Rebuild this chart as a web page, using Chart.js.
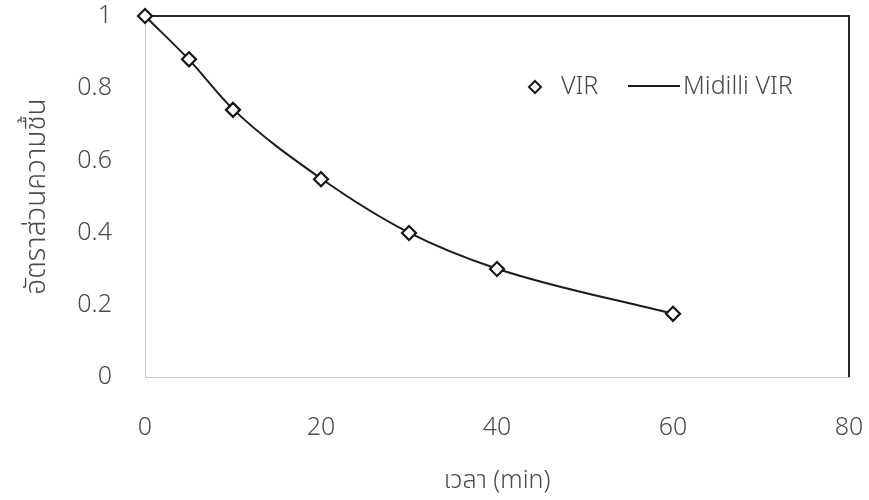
<!DOCTYPE html>
<html>
<head>
<meta charset="utf-8">
<script src="https://cdn.jsdelivr.net/npm/chart.js@4"></script>
<style>
  html, body { margin: 0; padding: 0; background: #fff; }
  #wrap { width: 869px; height: 500px; }
</style>
</head>
<body>
<div id="wrap"><canvas id="dryingChart"></canvas></div>
<script>
// time (min) and moisture ratio
const timeMin = [0, 5, 10, 20, 30, 40, 60];
const virMR = [1.0, 0.88, 0.74, 0.548, 0.399, 0.299, 0.175];
const midilliMR = [1.0, 0.879, 0.742, 0.55, 0.4, 0.3, 0.175];
const xTicks = [0, 20, 40, 60, 80];
const yTicks = [0, 0.2, 0.4, 0.6, 0.8, 1];

const textColor = "#4a4a4a";
const fontFamily = "'Noto Sans', 'Noto Sans Thai', sans-serif";

const frameAndLegend = {
  id: "frameAndLegend",
  beforeDatasetsDraw(chart) {
    const { ctx, chartArea } = chart;
    ctx.save();
    // dark top and right border
    ctx.strokeStyle = "#1e2a24";
    ctx.lineWidth = 2;
    ctx.beginPath();
    ctx.moveTo(chartArea.left, chartArea.top);
    ctx.lineTo(chartArea.right, chartArea.top);
    ctx.lineTo(chartArea.right, chartArea.bottom);
    ctx.stroke();
    ctx.restore();
  },
  afterDatasetsDraw(chart) {
    const { ctx } = chart;
    ctx.save();
    // legend
    const ly = 87;
    ctx.lineWidth = 2;
    ctx.strokeStyle = "#1a1a1a";
    ctx.fillStyle = "#fff";
    ctx.beginPath();
    ctx.moveTo(535, ly - 6);
    ctx.lineTo(541, ly);
    ctx.lineTo(535, ly + 6);
    ctx.lineTo(529, ly);
    ctx.closePath();
    ctx.fill();
    ctx.stroke();

    ctx.beginPath();
    ctx.moveTo(628, ly - 1);
    ctx.lineTo(680, ly - 1);
    ctx.stroke();

    ctx.fillStyle = textColor;
    ctx.font = "300 25px " + fontFamily;
    ctx.textBaseline = "middle";
    ctx.textAlign = "left";
    ctx.fillText(chart.data.datasets[0].label, 561, ly);
    ctx.fillText(chart.data.datasets[1].label, 683, ly);
    ctx.restore();
  },
};

new Chart(document.getElementById("dryingChart"), {
  type: "scatter",
  data: {
    datasets: [
      {
        label: "VIR",
        data: timeMin.map((t, i) => ({ x: t, y: virMR[i] })),
        showLine: false,
        clip: false,
        pointStyle: "rectRot",
        pointRadius: 7,
        pointBorderWidth: 2.2,
        pointBackgroundColor: "#fff",
        pointBorderColor: "#151515",
        order: 0,
      },
      {
        label: "Midilli VIR",
        data: timeMin.map((t, i) => ({ x: t, y: midilliMR[i] })),
        showLine: true,
        borderColor: "#1c1c1c",
        borderWidth: 2,
        pointRadius: 0,
        cubicInterpolationMode: "monotone",
        order: 1,
      },
    ],
  },
  options: {
    responsive: true,
    maintainAspectRatio: false,
    animation: false,
    layout: { padding: { top: 16, right: 20, left: 0, bottom: 0 } },
    plugins: {
      legend: { display: false },
      tooltip: { enabled: false },
    },
    scales: {
      x: {
        type: "linear",
        min: 0,
        max: 80,
        afterBuildTicks: (axis) => {
          axis.ticks = xTicks.map((v) => ({ value: v }));
        },
        afterFit: (axis) => {
          axis.height = 123;
          axis.paddingLeft = 0;
          axis.paddingRight = 0;
        },
        grid: { display: false, drawTicks: false },
        border: { color: "#c8c8c8", width: 1 },
        ticks: {
          padding: 36,
          color: textColor,
          font: { family: fontFamily, size: 25, weight: 300 },
        },
        title: {
          display: true,
          text: "เวลา (min)",
          color: textColor,
          font: { family: fontFamily, size: 25, weight: 300 },
          padding: { top: 21 },
        },
      },
      y: {
        min: 0,
        max: 1,
        afterBuildTicks: (axis) => {
          axis.ticks = yTicks.map((v) => ({ value: v }));
        },
        afterFit: (axis) => {
          axis.width = 145;
          axis.paddingTop = 0;
          axis.paddingBottom = 0;
        },
        grid: { display: false, drawTicks: false },
        border: { color: "#c8c8c8", width: 1 },
        ticks: {
          padding: 33,
          color: textColor,
          font: { family: fontFamily, size: 25, weight: 300 },
          callback: (v) => String(v),
        },
        title: {
          display: true,
          text: "อัตราส่วนความชื้น",
          color: textColor,
          font: { family: fontFamily, size: 28, weight: 300 },
          padding: { top: 20 },
        },
      },
    },
  },
  plugins: [frameAndLegend],
});
</script>
</body>
</html>
